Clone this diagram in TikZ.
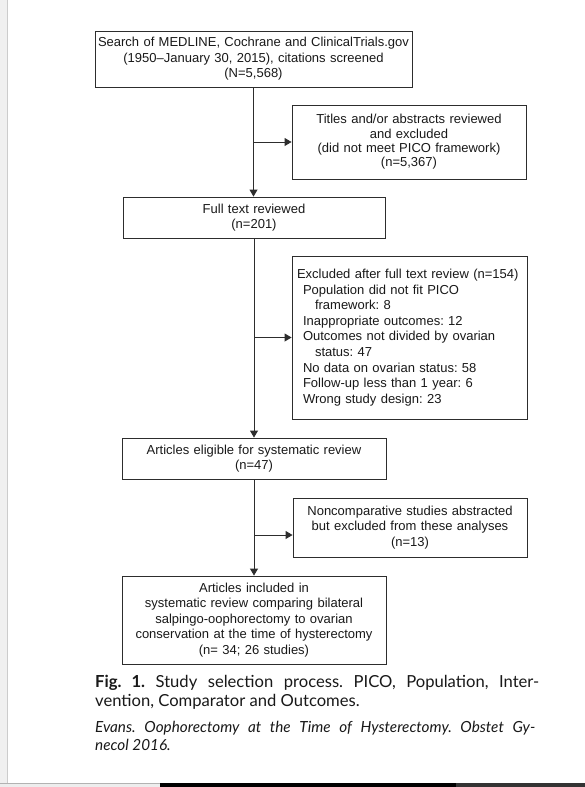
\documentclass[tikz,border=0pt]{standalone}
\usepackage{fontspec}
\setmainfont{Liberation Sans}
\newfontfamily\capfont{Lato}
\usetikzlibrary{arrows.meta}
\definecolor{ln}{RGB}{45,45,45}
\definecolor{tx}{RGB}{25,25,25}
\frenchspacing
\begin{document}
\frenchspacing
\begin{tikzpicture}[x=1pt,y=-1pt,
  box/.style={draw=ln, line width=0.9pt, text=tx, inner sep=0pt, align=center,
    font=\fontsize{13}{15.6}\selectfont},
  arr/.style={draw=ln, line width=0.9pt, -{Triangle[length=7pt,width=8pt]}},
  captext/.style={anchor=base west, inner sep=0pt, text=tx}]
\useasboundingbox (0,0) rectangle (585,787);
\fill[white] (0,0) rectangle (585,787);
% page edges
\fill[black!6] (0,0) rectangle (7,783);
\draw[black!20, line width=0.8pt] (7,0) -- (7,783);
\fill[black!7] (0,783) rectangle (160,787);
\draw[black!30, line width=0.8pt] (0,783.4) -- (160,783.4);
\fill[black] (160,783) rectangle (456,787);
\fill[black!80] (456,783) rectangle (585,787);

% boxes
\node[box, minimum width=317pt, minimum height=56pt, text width=317pt] (search) at (253.5,59)
  {Search of MEDLINE, Cochrane and ClinicalTrials.gov\\(1950–January 30, 2015), citations screened\\(N=5,568)};
\node[box, minimum width=234pt, minimum height=74pt, text width=224pt, font=\fontsize{13}{14.3}\selectfont] (titles) at (409,142)
  {Titles and/or abstracts reviewed\\and excluded\\(did not meet PICO framework)\\(n=5,367)};
\node[box, minimum width=262pt, minimum height=41pt, text width=252pt] (full) at (254,217.5)
  {Full text reviewed\\(n=201)};
\node[box, minimum width=235pt, minimum height=163pt, text width=225pt, align=left] (excl) at (409.5,337.5)
  {Excluded after full text review (n=154)\\
   \hspace*{6pt}Population did not fit PICO\\
   \hspace*{18pt}framework: 8\\
   \hspace*{6pt}Inappropriate outcomes: 12\\
   \hspace*{6pt}Outcomes not divided by ovarian\\
   \hspace*{18pt}status: 47\\
   \hspace*{6pt}No data on ovarian status: 58\\
   \hspace*{6pt}Follow-up less than 1 year: 6\\
   \hspace*{6pt}Wrong study design: 23};
\node[box, minimum width=264pt, minimum height=41pt, text width=254pt] (elig) at (254,458.5)
  {Articles eligible for systematic review\\(n=47)};
\node[box, minimum width=234pt, minimum height=59pt, text width=224pt] (noncomp) at (410,527.5)
  {Noncomparative studies abstracted\\but excluded from these analyses\\(n=13)};
\node[box, minimum width=264pt, minimum height=88pt, text width=254pt] (incl) at (254,620)
  {Articles included in\\systematic review comparing bilateral\\salpingo-oophorectomy to ovarian\\conservation at the time of hysterectomy\\(n= 34; 26 studies)};

% connectors
\draw[arr] (search.south) -- (search.south |- full.north);
\draw[arr] (search.south |- titles.west) -- (titles.west);
\draw[arr] (full.south) -- (full.south |- elig.north);
\draw[arr] (full.south |- excl.west) -- (excl.west);
\draw[arr] (elig.south) -- (elig.south |- incl.north);
\coordinate (ncin) at ([yshift=-7.5pt]noncomp.west);
\draw[arr] (elig.south |- ncin) -- (ncin);

% caption
\node[captext, font=\capfont\fontsize{16.6}{19}\selectfont] (cap1) at (95,687)
  {\makebox[444pt][s]{\textbf{Fig. 1.} Study selection process. PICO, Population, Inter-}};
\node[captext, font=\capfont\fontsize{16.6}{19}\selectfont] (cap2) at (95,706)
  {vention, Comparator and Outcomes.};
\node[captext, font=\capfont\itshape\fontsize{15.3}{18}\selectfont] (cap3) at (95,732)
  {\makebox[440pt][s]{Evans. Oophorectomy at the Time of Hysterectomy. Obstet Gy-}};
\node[captext, font=\capfont\itshape\fontsize{15.3}{18}\selectfont] (cap4) at (95,750)
  {necol 2016.};
\end{tikzpicture}
\end{document}
